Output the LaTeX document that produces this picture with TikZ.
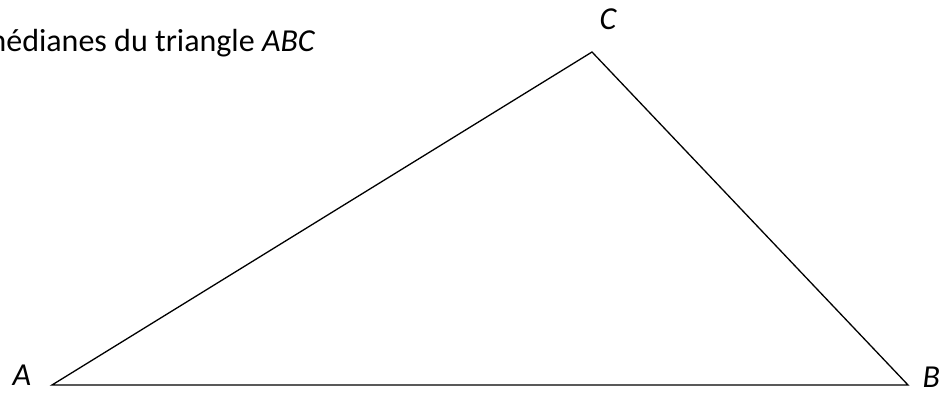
\documentclass[tikz,border=0pt]{standalone}
\usepackage{fontspec}
\setmainfont{Carlito}
\tikzset{lbl/.style={font=\fontsize{16}{19}\selectfont\itshape,inner sep=0pt}}

\begin{document}
\begin{tikzpicture}[x=0.5pt,y=0.5pt,line width=0.65pt]
  \useasboundingbox (0,0) rectangle (945,396);
  \clip (0,0) rectangle (945,396);
  \coordinate (A) at (52,11); \coordinate (B) at (908,11); \coordinate (C) at (592,344);
  \draw[line join=miter] (A) -- (B) -- (C) -- cycle;
  \node[lbl,anchor=base west] (labA) at (12,11) {A};
  \node[lbl,anchor=base west] (labB) at (922,9) {B};
  \node[lbl,anchor=base west] (labC) at (599,366) {C};
  \node[font=\fontsize{16}{19}\selectfont,inner sep=0pt,anchor=base east] (titre) at (316,344) {médianes du triangle \textit{ABC}};
\end{tikzpicture}
\end{document}
